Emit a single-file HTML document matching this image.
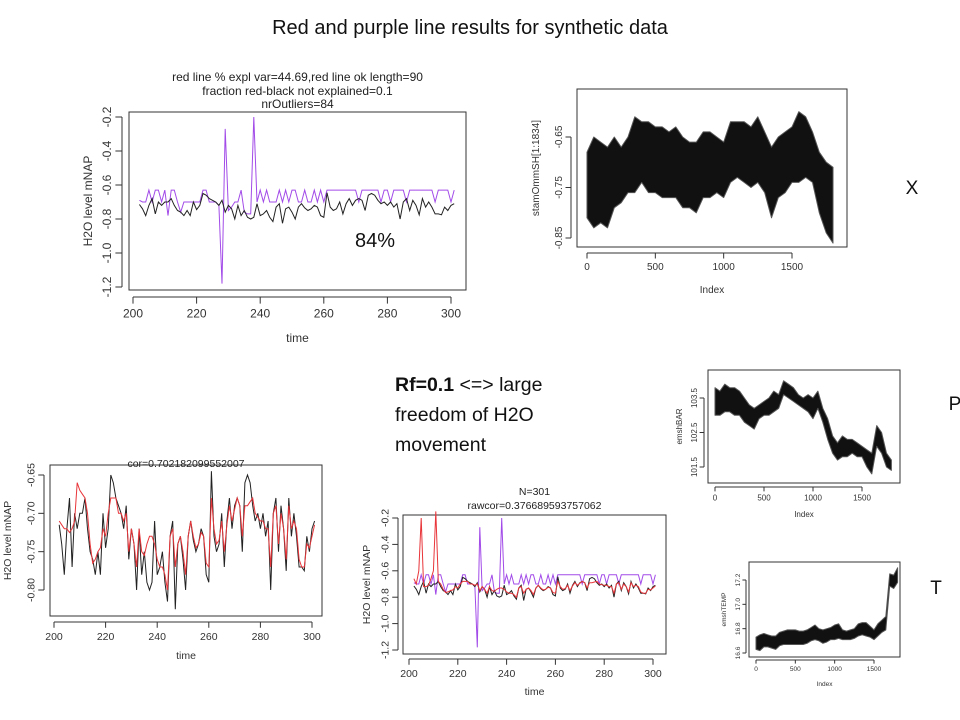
<!DOCTYPE html>
<html><head><meta charset="utf-8"><style>
html,body{margin:0;padding:0;background:#fff;}
svg{display:block;font-family:"Liberation Sans",Arial,sans-serif;}
</style></head><body>
<svg id="s" width="960" height="720" viewBox="0 0 960 720">
<text x="470" y="34" text-anchor="middle" font-size="20" fill="#111">Red and purple line results for synthetic data</text>
<text x="912" y="194" text-anchor="middle" font-size="19" fill="#111">X</text>
<text x="955" y="410" text-anchor="middle" font-size="19" fill="#111">P</text>
<text x="936" y="594" text-anchor="middle" font-size="19" fill="#111">T</text>
<g font-size="19.5" fill="#111">
<text x="395" y="391"><tspan font-weight="bold">Rf=0.1</tspan> &lt;=&gt; large</text>
<text x="395" y="421">freedom of H2O</text>
<text x="395" y="451">movement</text>
</g>
<text x="355" y="247" font-size="20" fill="#111">84%</text>
</svg>
<script>
// ---- data ----
var blackSeries=[-0.715,-0.74,-0.78,-0.72,-0.68,-0.77,-0.70,-0.72,-0.70,-0.70,
-0.68,-0.72,-0.75,-0.76,-0.78,-0.75,-0.78,-0.70,-0.745,-0.72,
-0.65,-0.66,-0.68,-0.69,-0.70,-0.72,-0.69,-0.76,-0.72,-0.74,
-0.80,-0.72,-0.78,-0.75,-0.79,-0.80,-0.79,-0.71,-0.78,-0.77,
-0.75,-0.79,-0.815,-0.73,-0.71,-0.825,-0.74,-0.73,-0.76,-0.80,
-0.73,-0.71,-0.735,-0.75,-0.74,-0.72,-0.73,-0.78,-0.79,-0.645,
-0.73,-0.75,-0.74,-0.70,-0.77,-0.71,-0.68,-0.72,-0.69,-0.68,
-0.69,-0.75,-0.66,-0.65,-0.66,-0.69,-0.71,-0.70,-0.72,-0.70,
-0.73,-0.71,-0.80,-0.70,-0.68,-0.75,-0.69,-0.72,-0.775,-0.68,
-0.73,-0.70,-0.73,-0.77,-0.77,-0.775,-0.73,-0.75,-0.72,-0.71];
var redSmooth=[-0.71,-0.715,-0.72,-0.72,-0.725,-0.72,-0.71,-0.66,-0.67,-0.675,
-0.68,-0.70,-0.74,-0.765,-0.76,-0.75,-0.745,-0.72,-0.73,-0.70,
-0.68,-0.68,-0.68,-0.70,-0.70,-0.71,-0.70,-0.75,-0.72,-0.74,
-0.77,-0.72,-0.75,-0.755,-0.74,-0.73,-0.73,-0.74,-0.76,-0.77,
-0.77,-0.78,-0.80,-0.73,-0.72,-0.77,-0.74,-0.73,-0.75,-0.78,
-0.73,-0.71,-0.73,-0.745,-0.74,-0.725,-0.73,-0.765,-0.77,-0.68,
-0.72,-0.74,-0.735,-0.71,-0.75,-0.715,-0.69,-0.71,-0.695,-0.68,
-0.69,-0.73,-0.69,-0.69,-0.685,-0.68,-0.70,-0.705,-0.71,-0.71,
-0.72,-0.72,-0.77,-0.70,-0.69,-0.74,-0.70,-0.72,-0.76,-0.69,
-0.72,-0.71,-0.72,-0.76,-0.77,-0.77,-0.74,-0.745,-0.73,-0.715];
var redRaw=[-0.66,-0.70,-0.60,-0.20,-0.72,-0.72,-0.71,-0.66,-0.60,-0.15,
-0.68,-0.70,-0.74,-0.765,-0.76,-0.75,-0.745,-0.72,-0.73,-0.70,
-0.68,-0.68,-0.68,-0.70,-0.70,-0.71,-0.70,-0.75,-0.72,-0.74,
-0.77,-0.72,-0.75,-0.755,-0.74,-0.73,-0.73,-0.74,-0.76,-0.77,
-0.77,-0.78,-0.80,-0.73,-0.72,-0.77,-0.74,-0.73,-0.75,-0.78,
-0.73,-0.71,-0.73,-0.745,-0.74,-0.725,-0.73,-0.765,-0.77,-0.68,
-0.72,-0.74,-0.735,-0.71,-0.75,-0.715,-0.69,-0.71,-0.695,-0.68,
-0.69,-0.73,-0.69,-0.69,-0.685,-0.68,-0.70,-0.705,-0.71,-0.71,
-0.72,-0.72,-0.77,-0.70,-0.69,-0.74,-0.70,-0.72,-0.76,-0.69,
-0.72,-0.71,-0.72,-0.76,-0.77,-0.77,-0.74,-0.745,-0.73,-0.715];
var purpleSeries=[-0.69,-0.70,-0.70,-0.63,-0.70,-0.63,-0.63,-0.70,-0.63,-0.78,
-0.63,-0.63,-0.70,-0.76,-0.70,-0.70,-0.70,-0.70,-0.70,-0.70,
-0.63,-0.63,-0.70,-0.70,-0.70,-0.72,-1.18,-0.27,-0.75,-0.73,
-0.70,-0.70,-0.63,-0.76,-0.77,-0.77,-0.20,-0.70,-0.63,-0.70,
-0.63,-0.70,-0.70,-0.70,-0.63,-0.70,-0.63,-0.70,-0.63,-0.63,
-0.70,-0.70,-0.63,-0.70,-0.70,-0.63,-0.70,-0.63,-0.70,-0.63,
-0.63,-0.63,-0.63,-0.63,-0.63,-0.63,-0.63,-0.63,-0.63,-0.70,
-0.63,-0.63,-0.63,-0.63,-0.63,-0.63,-0.70,-0.63,-0.63,-0.70,
-0.63,-0.63,-0.63,-0.63,-0.70,-0.63,-0.63,-0.63,-0.63,-0.63,
-0.63,-0.63,-0.63,-0.70,-0.63,-0.63,-0.63,-0.63,-0.70,-0.63];
var timeStart=202;
var binIndex=[0,50,100,150,200,250,300,350,400,450,500,550,600,650,700,750,800,850,900,950,1000,1050,1100,1150,1200,1250,1300,1350,1400,1450,1500,1550,1600,1650,1700,1750,1800];
var stamMin=[-0.81,-0.83,-0.82,-0.83,-0.79,-0.78,-0.76,-0.76,-0.74,-0.76,-0.76,-0.77,-0.77,-0.77,-0.79,-0.79,-0.80,-0.77,-0.77,-0.76,-0.77,-0.74,-0.73,-0.74,-0.75,-0.74,-0.76,-0.81,-0.77,-0.76,-0.74,-0.74,-0.73,-0.74,-0.80,-0.84,-0.86];
var stamMax=[-0.68,-0.65,-0.66,-0.67,-0.65,-0.67,-0.65,-0.61,-0.62,-0.62,-0.63,-0.63,-0.64,-0.63,-0.65,-0.66,-0.66,-0.64,-0.64,-0.65,-0.66,-0.62,-0.62,-0.62,-0.63,-0.61,-0.64,-0.67,-0.65,-0.64,-0.63,-0.60,-0.61,-0.64,-0.68,-0.70,-0.71];
var barMin=[103.0,103.0,103.1,103.1,103.0,103.0,102.8,102.7,102.6,102.9,103.0,103.0,103.1,103.2,103.6,103.5,103.4,103.3,103.2,103.1,102.9,103.2,102.8,102.3,101.9,101.7,101.8,101.8,101.9,101.8,101.8,101.5,101.3,102.1,101.9,101.5,101.4];
var barMax=[103.8,103.7,103.9,103.8,103.8,103.7,103.5,103.3,103.2,103.3,103.4,103.5,103.7,103.6,104.0,103.9,103.8,103.6,103.5,103.6,103.5,103.7,103.2,102.9,102.4,102.2,102.4,102.3,102.3,102.2,102.1,102.0,101.9,102.7,102.5,101.9,101.7];
var tempMin=[16.63,16.62,16.65,16.65,16.64,16.63,16.66,16.67,16.67,16.67,16.67,16.67,16.67,16.68,16.70,16.71,16.70,16.68,16.69,16.71,16.71,16.72,16.71,16.71,16.71,16.72,16.74,16.75,16.74,16.73,16.71,16.74,16.77,16.79,17.15,17.13,17.18];
var tempMax=[16.73,16.75,16.76,16.75,16.74,16.74,16.77,16.78,16.79,16.79,16.79,16.78,16.78,16.79,16.81,16.83,16.80,16.79,16.80,16.81,16.83,16.84,16.79,16.78,16.79,16.80,16.84,16.85,16.85,16.82,16.79,16.84,16.87,16.90,17.25,17.24,17.30];
var timeTicks=[200,220,240,260,280,300];
var indexTicks=[0,500,1000,1500];

var NS="http://www.w3.org/2000/svg", svg=document.getElementById('s');
function mk(tag,attrs,parent){var e=document.createElementNS(NS,tag);for(var k in attrs)e.setAttribute(k,attrs[k]);(parent||svg).appendChild(e);return e;}
function lin(d0,d1,r0,r1){return function(v){return r0+(v-d0)/(d1-d0)*(r1-r0);};}

function plot(o){
  var g=mk('g',{});
  
  
  var X=lin(o.xd[0],o.xd[1],o.xr[0],o.xr[1]), Y=lin(o.yd[0],o.yd[1],o.yr[0],o.yr[1]);
  var box=mk('rect',{x:o.box[0],y:o.box[1],width:o.box[2]-o.box[0],height:o.box[3]-o.box[1],fill:'none',stroke:'#333','stroke-width':1},g);
  
  
  var tl=o.fs*0.55, b=o.box[3], l=o.box[0];
  var xa=mk('g',{},g);
  
  
  mk('line',{x1:X(o.xt[0]),x2:X(o.xt[o.xt.length-1]),y1:b+o.gap,y2:b+o.gap,stroke:'#333'},xa);
  o.xt.forEach(function(t){
    mk('line',{x1:X(t),x2:X(t),y1:b+o.gap,y2:b+o.gap+tl,stroke:'#333'},xa);
    var tx=mk('text',{x:X(t),y:b+o.gap+tl+o.fs*1.15,'text-anchor':'middle','font-size':o.fs,fill:'#333'},xa);
    tx.textContent=t;
    
    
  });
  var ya=mk('g',{},g);
  
  
  mk('line',{y1:Y(o.yt[0]),y2:Y(o.yt[o.yt.length-1]),x1:l-o.gap,x2:l-o.gap,stroke:'#333'},ya);
  o.yt.forEach(function(t,i){
    mk('line',{y1:Y(t),y2:Y(t),x1:l-o.gap,x2:l-o.gap-tl,stroke:'#333'},ya);
    var xx=l-o.gap-tl-o.fs*0.35, yy=Y(t);
    var tx=mk('text',{x:xx,y:yy,'text-anchor':'middle','font-size':o.fs,fill:'#333',transform:'rotate(-90 '+xx+' '+yy+')'},ya);
    tx.textContent=o.ytl[i];
    
    
  });
  var xl=mk('text',{x:(o.box[0]+o.box[2])/2,y:o.xlabY,'text-anchor':'middle','font-size':o.fs,fill:'#333'},g);
  xl.textContent=o.xlab;
  
  
  var cy=(o.box[1]+o.box[3])/2;
  var yl=mk('text',{x:o.ylabX,y:cy,'text-anchor':'middle','font-size':o.fs,fill:'#333',transform:'rotate(-90 '+o.ylabX+' '+cy+')'},g);
  yl.textContent=o.ylab;
  
  
  (o.titles||[]).forEach(function(t){
    var tt=mk('text',{x:(o.box[0]+o.box[2])/2,y:t[1],'text-anchor':'middle','font-size':o.fs,fill:'#222'},g);
    tt.textContent=t[0];
    
    
  });
  (o.lines||[]).forEach(function(s){
    var pts=s.vals.map(function(v,i){return X(o.x0+i).toFixed(1)+','+Y(v).toFixed(1);}).join(' ');
    var p=mk('polyline',{points:pts,fill:'none',stroke:s.color,'stroke-width':s.w||1},g);
    
    
  });
  (o.bands||[]).forEach(function(s){
    var top=s.idx.map(function(v,i){return X(v).toFixed(1)+','+Y(s.hi[i]).toFixed(1);});
    var bot=s.idx.map(function(v,i){return X(v).toFixed(1)+','+Y(s.lo[i]).toFixed(1);}).reverse();
    var p=mk('polygon',{points:top.concat(bot).join(' '),fill:'#111',stroke:'#555','stroke-width':1,'stroke-linejoin':'round'},g);
    
    
  });
}

plot({name:'plot-outliers',box:[129,112,466,290],xd:[200,300],xr:[133,451],yd:[-0.2,-1.2],yr:[117,287],gap:7,fs:12,
  xt:timeTicks,yt:[-0.2,-0.4,-0.6,-0.8,-1.0,-1.2],ytl:['-0.2','-0.4','-0.6','-0.8','-1.0','-1.2'],
  xlab:'time',xlabY:342,ylab:'H2O level mNAP',ylabX:92,x0:timeStart,
  titles:[['red line % expl var=44.69,red line ok  length=90',81],['fraction red-black not explained=0.1',95],['nrOutliers=84',108]],
  lines:[{name:'purple-line',vals:purpleSeries,color:'#a24be8'},{name:'black-line',vals:blackSeries,color:'#222'}]});

plot({name:'plot-correlation',box:[50,465,322,616],xd:[200,300],xr:[54,312],yd:[-0.65,-0.80],yr:[475,590],gap:6,fs:10.5,
  xt:timeTicks,yt:[-0.65,-0.70,-0.75,-0.80],ytl:['-0.65','-0.70','-0.75','-0.80'],
  xlab:'time',xlabY:659,ylab:'H2O level mNAP',ylabX:11,x0:timeStart,
  titles:[['cor=0.702182099552007',467]],
  lines:[{name:'black-line',vals:blackSeries,color:'#222'},{name:'red-line',vals:redSmooth,color:'#e8353a'}]});

plot({name:'plot-rawcor',box:[403,515,666,654],xd:[200,300],xr:[409,653],yd:[-0.2,-1.2],yr:[518,650],gap:5,fs:10.5,
  xt:timeTicks,yt:[-0.2,-0.4,-0.6,-0.8,-1.0,-1.2],ytl:['-0.2','-0.4','-0.6','-0.8','-1.0','-1.2'],
  xlab:'time',xlabY:695,ylab:'H2O level mNAP',ylabX:370,x0:timeStart,
  titles:[['N=301',495],['rawcor=0.376689593757062',509]],
  lines:[{name:'purple-line',vals:purpleSeries,color:'#a24be8'},{name:'black-line',vals:blackSeries,color:'#222'},{name:'red-line',vals:redRaw,color:'#e8353a'}]});

plot({name:'plot-stamommsh',box:[577,89,847,247],xd:[0,1500],xr:[587,792],yd:[-0.65,-0.85],yr:[137,238],gap:6,fs:10,
  xt:indexTicks,yt:[-0.65,-0.75,-0.85],ytl:['-0.65','-0.75','-0.85'],
  xlab:'Index',xlabY:293,ylab:'stamOmmSH[1:1834]',ylabX:539,
  bands:[{name:'stamommsh-series',idx:binIndex,lo:stamMin,hi:stamMax}]});
// extra ticks at -0.70/-0.80 not labelled in R when crowded -> fine

plot({name:'plot-emshbar',box:[708,370,900,483],xd:[0,1500],xr:[715,862],yd:[103.5,101.5],yr:[398,467],gap:4,fs:8,
  xt:indexTicks,yt:[103.5,102.5,101.5],ytl:['103.5','102.5','101.5'],
  xlab:'Index',xlabY:517,ylab:'emshBAR',ylabX:682,
  bands:[{name:'emshbar-series',idx:binIndex,lo:barMin,hi:barMax}]});

plot({name:'plot-emshtemp',box:[749,562,900,657],xd:[0,1500],xr:[756,874],yd:[17.2,16.6],yr:[580,653],gap:3,fs:6.5,
  xt:indexTicks,yt:[16.6,16.8,17.0,17.2],ytl:['16.6','16.8','17.0','17.2'],
  xlab:'Index',xlabY:686,ylab:'emshTEMP',ylabX:726,
  bands:[{name:'emshtemp-series',idx:binIndex,lo:tempMin,hi:tempMax}]});
</script>
</body></html>
